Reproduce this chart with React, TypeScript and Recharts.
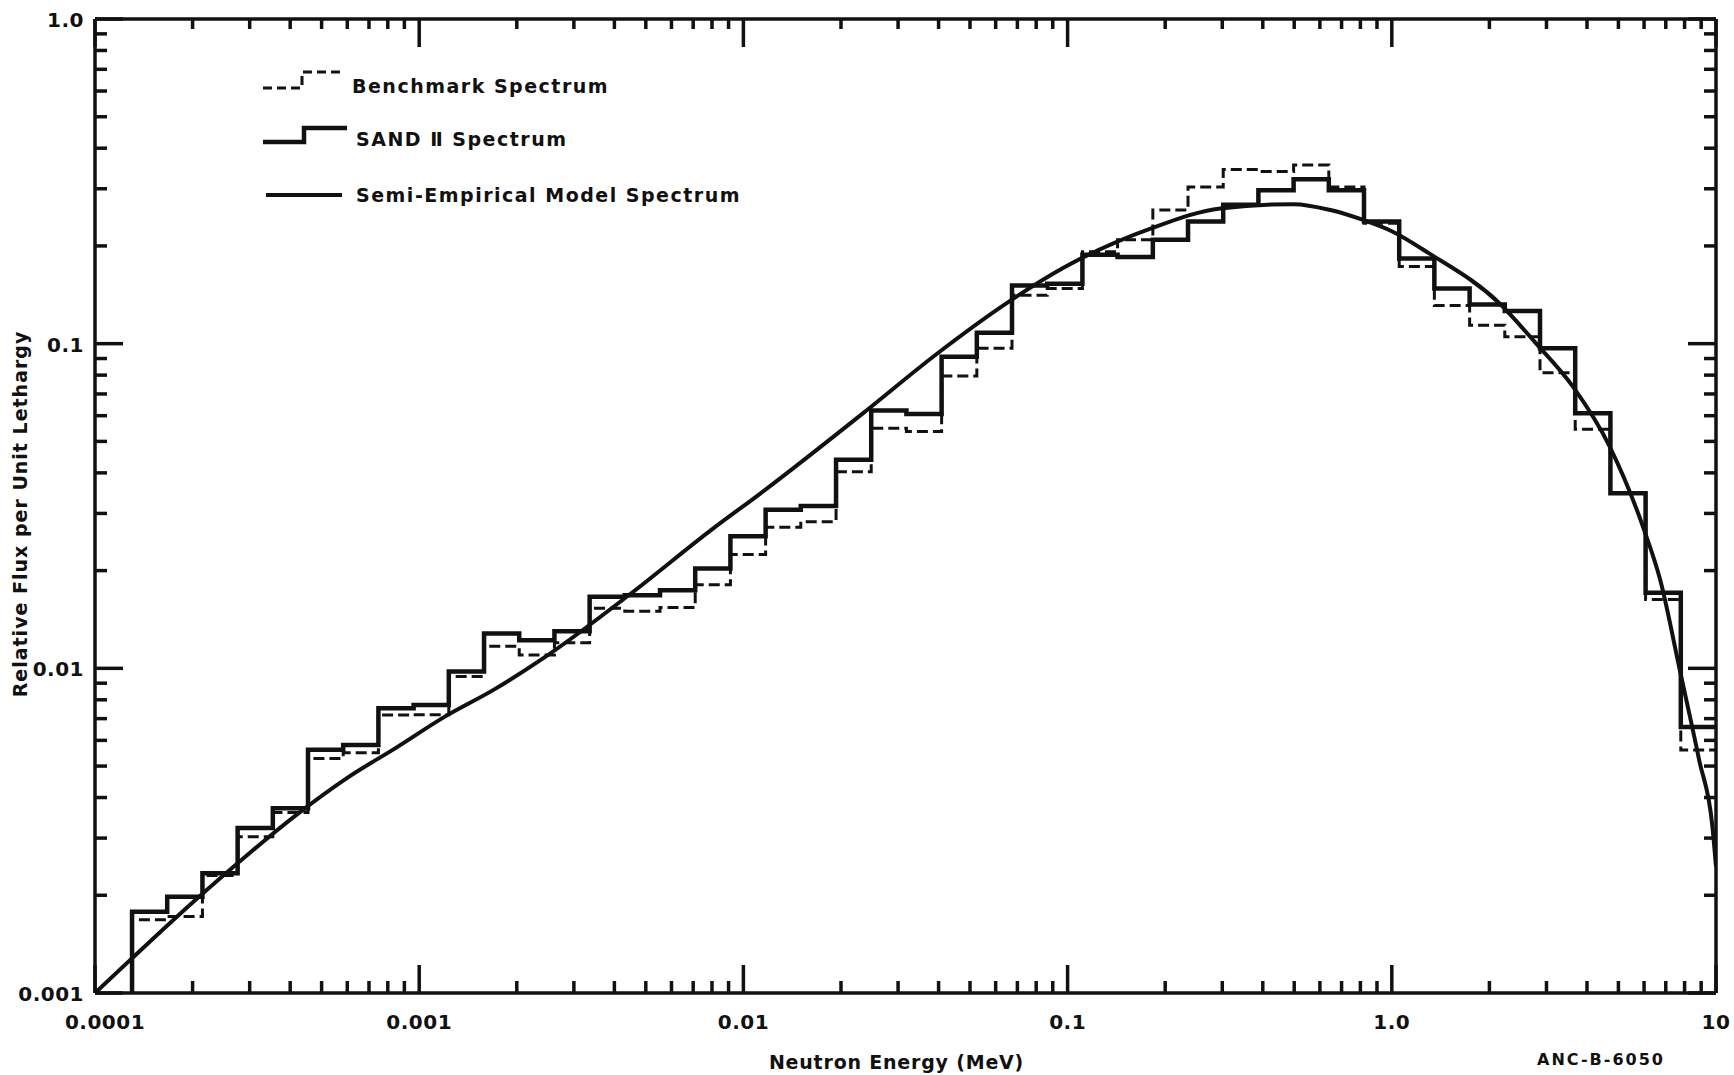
import { LineChart, Line, XAxis, YAxis, Legend } from 'recharts';

// energy group boundaries (MeV), 45 groups of equal lethargy
const binEdges = [
  0.0001301, 0.000167, 0.0002145, 0.0002754, 0.0003536, 0.000454, 0.0005829, 0.0007485, 0.0009611, 0.001234,
  0.001585, 0.002035, 0.002613, 0.003355, 0.004307, 0.005531, 0.007102, 0.009119, 0.01171, 0.01503,
  0.01931, 0.02479, 0.03183, 0.04087, 0.05248, 0.06738, 0.08652, 0.1111, 0.1426, 0.1832,
  0.2352, 0.302, 0.3877, 0.4979, 0.6393, 0.8208, 1.054, 1.353, 1.738, 2.231,
  2.865, 3.679, 4.724, 6.065, 7.788, 10,
];

const sandII = [
  0.00178, 0.00198, 0.00234, 0.00322, 0.00371, 0.00561, 0.00581, 0.00754, 0.00771, 0.00977,
  0.0128, 0.0122, 0.013, 0.0166, 0.0168, 0.0174, 0.0203, 0.0255, 0.0308, 0.0316,
  0.0439, 0.0622, 0.0607, 0.0912, 0.108, 0.151, 0.153, 0.188, 0.185, 0.209,
  0.238, 0.268, 0.297, 0.321, 0.297, 0.238, 0.183, 0.148, 0.132, 0.126,
  0.0968, 0.061, 0.0346, 0.0171, 0.0066,
];

const benchmark = [
  0.00168, 0.00172, 0.0023, 0.00303, 0.0036, 0.00528, 0.0055, 0.00718, 0.0072, 0.00943,
  0.0117, 0.011, 0.012, 0.0153, 0.015, 0.0154, 0.0181, 0.0224, 0.0272, 0.0283,
  0.0403, 0.0549, 0.0536, 0.0795, 0.0968, 0.141, 0.148, 0.192, 0.209, 0.258,
  0.304, 0.344, 0.339, 0.355, 0.304, 0.235, 0.173, 0.131, 0.114, 0.105,
  0.0814, 0.0545, 0.0346, 0.0163, 0.0056,
];

// semi-empirical model curve
const modelE = [
  0.0001, 0.000128, 0.0002, 0.0003, 0.00042, 0.0006, 0.00085, 0.0012, 0.0017, 0.0025,
  0.0045, 0.008, 0.0113, 0.0237, 0.0391, 0.0661, 0.0968, 0.182, 0.296, 0.499,
  0.647, 0.82, 1.0, 1.3, 2.15, 2.79, 3.62, 4.7, 6.0, 6.73,
  7.73, 8.88, 9.75, 10,
];
const modelF = [
  0.001, 0.00126, 0.0019, 0.0027, 0.00355, 0.0046, 0.0057, 0.0071, 0.0086, 0.011,
  0.017, 0.0268, 0.0346, 0.0617, 0.0923, 0.135, 0.171, 0.227, 0.261, 0.269,
  0.258, 0.24, 0.222, 0.19, 0.133, 0.1, 0.0737, 0.0482, 0.0267, 0.0187,
  0.0099, 0.0052, 0.00325, 0.00245,
];

const xMajor = [0.0001, 0.001, 0.01, 0.1, 1, 10];
const xMajorLabels = ['0.0001', '0.001', '0.01', '0.1', '1.0', '10'];
const yMajor = [0.001, 0.01, 0.1, 1];
const yMajorLabels = ['0.001', '0.01', '0.1', '1.0'];
const minorSteps = [2, 3, 4, 5, 6, 7, 8, 9];

const legendNames = ['Benchmark Spectrum', 'SAND \u2161 Spectrum', 'Semi-Empirical Model Spectrum'];

const INK = '#111';
const FONT = '"DejaVu Sans", "Liberation Sans", Arial, sans-serif';

const withMinors = (majors: number[]) =>
  [...majors, ...majors.slice(0, -1).flatMap((d) => minorSteps.map((m) => m * d))].sort((a, b) => a - b);

const xTicks = withMinors(xMajor);
const yTicks = withMinors(yMajor);

const stepRows = (vals: number[]) => [
  { e: binEdges[0], f: yMajor[0] },
  ...binEdges.map((e, i) => ({ e, f: vals[Math.min(i, vals.length - 1)] })),
];

const sandData = stepRows(sandII);
const benchData = stepRows(benchmark);
const modelData = modelE.map((e, i) => ({ e, f: modelF[i] }));

const labelStyle = { fontFamily: FONT, fontWeight: 700, fontSize: 19, fill: INK };
const tickStyle = { ...labelStyle, fontSize: 20, letterSpacing: 0.5 };

function makeTick(side: 'bottom' | 'top' | 'left' | 'right', majors: number[], labels: string[]) {
  return (props: any) => {
    const { x, y, payload } = props;
    const idx = majors.indexOf(payload.value);
    const major = idx >= 0;
    const len = major ? 28 : side === 'top' ? 10 : 12;
    let x2 = x;
    let y2 = y;
    if (side === 'bottom') y2 = y - len;
    if (side === 'top') y2 = y + len;
    if (side === 'left') x2 = x + len;
    if (side === 'right') x2 = x - len;
    return (
      <g>
        <line x1={x} y1={y} x2={x2} y2={y2} stroke={INK} strokeWidth={3.5} />
        {major && side === 'bottom' && (
          <text x={x + (idx === 0 ? 10 : 0)} y={y + 29} textAnchor="middle" dominantBaseline="central" {...tickStyle}>
            {labels[idx]}
          </text>
        )}
        {major && side === 'left' && (
          <text x={x - 11} y={y + 1} textAnchor="end" dominantBaseline="central" {...tickStyle}>
            {labels[idx]}
          </text>
        )}
      </g>
    );
  };
}

const bottomTick = makeTick('bottom', xMajor, xMajorLabels);
const topTick = makeTick('top', xMajor, xMajorLabels);
const leftTick = makeTick('left', yMajor, yMajorLabels);
const rightTick = makeTick('right', yMajor, yMajorLabels);

const xTitle = (props: any) => {
  const vb = props.viewBox;
  return (
    <g>
      <text
        x={vb.x + vb.width / 2 - 9}
        y={vb.y + 69}
        textAnchor="middle"
        dominantBaseline="central"
        {...labelStyle}
        letterSpacing={0.8}
      >
        Neutron Energy (MeV)
      </text>
      <text
        x={vb.x + vb.width - 115}
        y={vb.y + 66}
        textAnchor="middle"
        dominantBaseline="central"
        {...labelStyle}
        fontSize={16}
        letterSpacing={2}
      >
        ANC-B-6050
      </text>
    </g>
  );
};

const yTitle = (props: any) => {
  const vb = props.viewBox;
  const cx = 20;
  const cy = vb.y + vb.height / 2 + 8;
  return (
    <text
      x={cx}
      y={cy}
      transform={`rotate(-90, ${cx}, ${cy})`}
      textAnchor="middle"
      dominantBaseline="central"
      {...labelStyle}
      letterSpacing={1}
    >
      Relative Flux per Unit Lethargy
    </text>
  );
};

function renderLegend() {
  return (
    <svg width={560} height={165}>
      <path d="M13,33 H52 V17 H93" fill="none" stroke={INK} strokeWidth={3} strokeDasharray="9 5" />
      <path d="M13,87 H54 V73 H97" fill="none" stroke={INK} strokeWidth={4.5} />
      <path d="M16,140 H92" fill="none" stroke={INK} strokeWidth={4} />
      {legendNames.map((name, i) => (
        <text
          key={name}
          x={i === 0 ? 102 : 106}
          y={[31, 84, 140][i]}
          dominantBaseline="central"
          {...labelStyle}
          letterSpacing={1.5}
        >
          {name}
        </text>
      ))}
    </svg>
  );
}

export default function App() {
  return (
    <div style={{ position: 'absolute', left: 0, top: 0, background: '#fff' }}>
      <LineChart width={1734} height={1075} margin={{ top: 9, right: 8, bottom: 0, left: 0 }}>
        <XAxis
          dataKey="e"
          type="number"
          scale="log"
          domain={[0.0001, 10]}
          allowDataOverflow
          ticks={xTicks}
          interval={0}
          tick={bottomTick}
          tickLine={false}
          tickSize={0}
          tickMargin={0}
          height={82}
          axisLine={{ stroke: INK, strokeWidth: 3.5 }}
          label={xTitle}
        />
        <XAxis
          xAxisId="top"
          orientation="top"
          dataKey="e"
          type="number"
          scale="log"
          domain={[0.0001, 10]}
          allowDataOverflow
          ticks={xTicks}
          interval={0}
          tick={topTick}
          tickLine={false}
          tickSize={0}
          tickMargin={0}
          height={10}
          axisLine={{ stroke: INK, strokeWidth: 3.5 }}
        />
        <YAxis
          type="number"
          scale="log"
          domain={[0.001, 1]}
          allowDataOverflow
          ticks={yTicks}
          interval={0}
          tick={leftTick}
          tickLine={false}
          tickSize={0}
          tickMargin={0}
          width={95}
          axisLine={{ stroke: INK, strokeWidth: 3.5 }}
          label={yTitle}
        />
        <YAxis
          yAxisId="right"
          orientation="right"
          type="number"
          scale="log"
          domain={[0.001, 1]}
          allowDataOverflow
          ticks={yTicks}
          interval={0}
          tick={rightTick}
          tickLine={false}
          tickSize={0}
          tickMargin={0}
          width={10}
          axisLine={{ stroke: INK, strokeWidth: 3.5 }}
        />
        <Legend
          layout="horizontal"
          verticalAlign="middle"
          align="center"
          wrapperStyle={{ left: 250, top: 55, width: 560, height: 165 }}
          content={renderLegend}
        />
        <Line
          name={legendNames[0]}
          data={benchData}
          dataKey="f"
          type="stepAfter"
          stroke={INK}
          strokeWidth={3}
          strokeDasharray="11 5"
          dot={false}
          activeDot={false}
          isAnimationActive={false}
        />
        <Line
          name={legendNames[1]}
          data={sandData}
          dataKey="f"
          type="stepAfter"
          stroke={INK}
          strokeWidth={4.5}
          strokeLinejoin="miter"
          dot={false}
          activeDot={false}
          isAnimationActive={false}
        />
        <Line
          name={legendNames[2]}
          data={modelData}
          dataKey="f"
          type="monotone"
          stroke={INK}
          strokeWidth={4}
          dot={false}
          activeDot={false}
          isAnimationActive={false}
        />
      </LineChart>
    </div>
  );
}
